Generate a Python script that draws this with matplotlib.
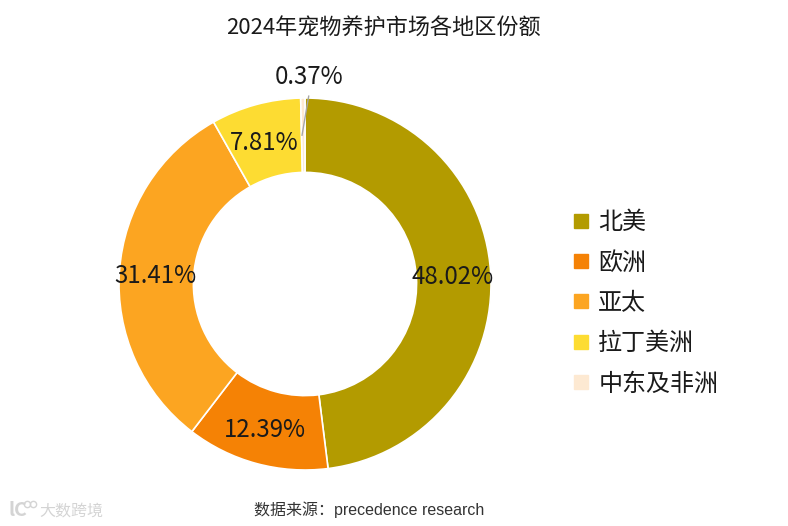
"""Donut chart: 2024 pet care market share by region."""

import math

import matplotlib
matplotlib.use("Agg")
import matplotlib.pyplot as plt
from matplotlib.lines import Line2D

plt.rcParams["font.family"] = ["Noto Sans CJK SC", "DejaVu Sans"]

# ---------------------------------------------------------------------------
# Data
# ---------------------------------------------------------------------------

regions = ["北美", "欧洲", "亚太", "拉丁美洲", "中东及非洲"]
shares = [48.02, 12.39, 31.41, 7.81, 0.37]
colors = ["#B39B00", "#F58205", "#FCA521", "#FDDC32", "#FDE9D2"]

title_text = "2024年宠物养护市场各地区份额"
source_text = "数据来源：precedence research"
watermark_text = "大数跨境"

W, H = 788, 526
CX, CY, R = 305, 284, 186   # donut centre and radius, px
LABEL_DROP = 0.012          # CJK font sits high, nudge the numbers down

# ---------------------------------------------------------------------------
# Donut
# ---------------------------------------------------------------------------

fig = plt.figure(figsize=(W / 100, H / 100), dpi=100, facecolor="white")
ax = fig.add_axes([(CX - R) / W, (H - CY - R) / H, 2 * R / W, 2 * R / H])

wedges, _ = ax.pie(
    shares,
    colors=colors,
    startangle=90,
    counterclock=False,
    radius=1.0,
    wedgeprops={"width": 0.4, "edgecolor": "white", "linewidth": 1.2},
)
ax.set_xlim(-1, 1)
ax.set_ylim(-1, 1)

# Percentage labels at the middle of the ring
for wedge, share in zip(wedges[:-1], shares[:-1]):
    ang = math.radians((wedge.theta1 + wedge.theta2) / 2)
    ax.text(0.8 * math.cos(ang) - 0.005, 0.8 * math.sin(ang) - LABEL_DROP,
            f"{share:.2f}%", ha="center", va="center", fontsize=17.3,
            color="#1a1a1a")

# Smallest slice is labelled outside with a leader line
ax.add_line(Line2D([-0.016, 0.02], [0.80, 1.01], color="#a6a6a6",
                   linewidth=1.0, clip_on=False))
ax.text(0.02, 1.114, f"{shares[-1]:.2f}%", ha="center", va="center",
        fontsize=17.3, color="#1a1a1a", clip_on=False)

# ---------------------------------------------------------------------------
# Legend, title, footer
# ---------------------------------------------------------------------------

handles = [Line2D([], [], linestyle="none", marker="s", markersize=10.5,
                  markerfacecolor=c, markeredgecolor=c) for c in colors]
fig.legend(
    handles, regions,
    loc="upper left",
    bbox_to_anchor=(573 / W, (H - 209) / H),
    frameon=False,
    fontsize=17.3,
    labelcolor="#1a1a1a",
    labelspacing=0.6,
    handlelength=0.7,
    handletextpad=0.35,
    borderpad=0,
    borderaxespad=0,
)

fig.text(383 / W, 1 - 29 / H, title_text, ha="center", va="center",
         fontsize=15.9, color="#1a1a1a")
fig.text(369 / W, 1 - 510 / H, source_text, ha="center", va="center",
         fontsize=11.5, color="#333333",
         family=["Liberation Sans", "Noto Sans CJK SC"])

# Watermark: faint logo and name
fig.text(39 / W, 1 - 511 / H, watermark_text, ha="left", va="center",
         fontsize=11.5, color="#d4d4d4")
fig.text(8 / W, 1 - 511 / H, "lC", ha="left", va="center",
         fontsize=14, color="#d4d4d4", fontweight="bold")
for px in (27, 33):
    fig.add_artist(Line2D([px / W], [1 - 504 / H], marker="o", markersize=4.5,
                          markerfacecolor="none", markeredgecolor="#d4d4d4",
                          linestyle="none", transform=fig.transFigure))

fig.savefig("out.png", dpi=100, facecolor="white")
